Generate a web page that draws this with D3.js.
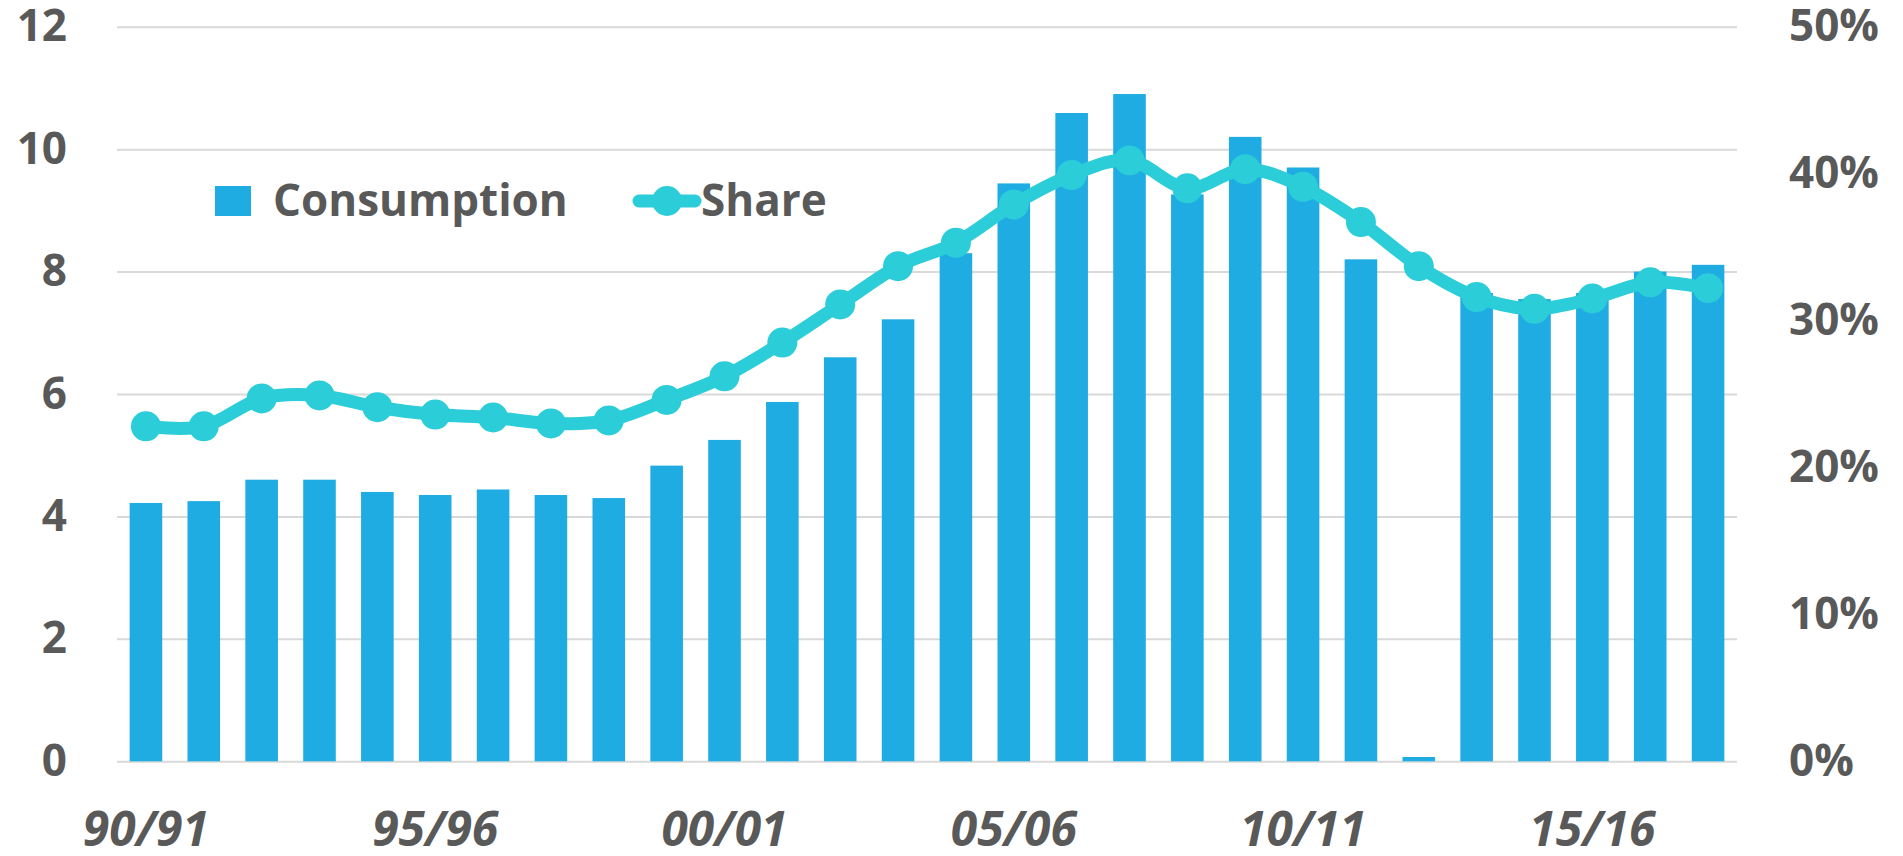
<!DOCTYPE html>
<html>
<head>
<meta charset="utf-8">
<script src="https://cdn.jsdelivr.net/npm/d3@7"></script>
<style>
  body { margin: 0; background: #fff; }
  svg { display: block; font-family: "Open Sans", sans-serif; }
  .tick text { fill: #595959; font-family: "Open Sans", sans-serif; font-weight: bold; font-size: 44px; }
  .grid line { stroke: #d9d9d9; stroke-width: 2; }
  .xaxis .tick text { font-family: "Noto Sans", "Open Sans", sans-serif; font-style: italic; font-size: 48px; }
</style>
</head>
<body>
<svg id="chart" width="1903" height="856"></svg>
<script>
// season labels, one per bar
var years = ['90/91','91/92','92/93','93/94','94/95','95/96','96/97','97/98','98/99','99/00',
  '00/01','01/02','02/03','03/04','04/05','05/06','06/07','07/08','08/09','09/10',
  '10/11','11/12','12/13','13/14','14/15','15/16','16/17','17/18'];

var consumption = [4.22, 4.25, 4.60, 4.60, 4.40, 4.35, 4.44, 4.35, 4.30, 4.83,
  5.25, 5.87, 6.60, 7.22, 8.30, 9.44, 10.59, 10.90, 9.26, 10.20,
  9.70, 8.20, 0.07, 7.65, 7.55, 7.65, 8.00, 8.11];

// share in percent
var share = [22.8, 22.8, 24.7, 24.9, 24.1, 23.6, 23.4, 23.0, 23.2, 24.6,
  26.2, 28.5, 31.1, 33.7, 35.3, 37.9, 39.9, 40.9, 39.0, 40.3,
  39.1, 36.7, 33.7, 31.6, 30.8, 31.5, 32.6, 32.2];

var leftTicks = [0, 2, 4, 6, 8, 10, 12];
var rightTicks = [0, 10, 20, 30, 40, 50];
var xLabels = ['90/91', '95/96', '00/01', '05/06', '10/11', '15/16'];

var barColor = '#1eace2';
var lineColor = '#2bcdd8';

var svg = d3.select('#chart');
var plotLeft = 117, plotRight = 1737, plotTop = 26.7, plotBottom = 761.3;

var x = d3.scaleBand()
  .domain(years)
  .range([plotLeft, plotRight])
  .paddingInner(0.437)
  .paddingOuter(0.2185);

var yL = d3.scaleLinear().domain([0, 12]).range([plotBottom, plotTop]);
var yR = d3.scaleLinear().domain([0, 50]).range([plotBottom, plotTop]);

// gridlines
svg.append('g')
  .attr('class', 'grid')
  .attr('transform', 'translate(' + plotLeft + ',0)')
  .call(d3.axisLeft(yL).tickValues(leftTicks).tickSize(-(plotRight - plotLeft)).tickFormat(''))
  .call(function(g){ g.select('.domain').remove(); });

// bars
svg.append('g').selectAll('rect')
  .data(consumption)
  .enter()
  .append('rect')
  .attr('x', function(d, i){ return x(years[i]); })
  .attr('width', x.bandwidth())
  .attr('y', function(d){ return yL(d); })
  .attr('height', function(d){ return plotBottom - yL(d); })
  .attr('fill', barColor);

// share line
var line = d3.line()
  .x(function(d, i){ return x(years[i]) + x.bandwidth() / 2; })
  .y(function(d){ return yR(d); })
  .curve(d3.curveCardinal.tension(0));

svg.append('path')
  .datum(share)
  .attr('d', line)
  .attr('fill', 'none')
  .attr('stroke', lineColor)
  .attr('stroke-width', 13)
  .attr('stroke-linejoin', 'round');

svg.append('g').selectAll('circle')
  .data(share)
  .enter()
  .append('circle')
  .attr('cx', function(d, i){ return x(years[i]) + x.bandwidth() / 2; })
  .attr('cy', function(d){ return yR(d); })
  .attr('r', 15)
  .attr('fill', lineColor);

// left axis
svg.append('g')
  .attr('transform', 'translate(' + plotLeft + ',0)')
  .call(d3.axisLeft(yL).tickValues(leftTicks).tickSize(0).tickPadding(50))
  .call(function(g){ g.select('.domain').remove(); });

// right axis
svg.append('g')
  .attr('transform', 'translate(' + plotRight + ',0)')
  .call(d3.axisRight(yR).tickValues(rightTicks).tickSize(0).tickPadding(52)
    .tickFormat(function(d){ return d + '%'; }))
  .call(function(g){ g.select('.domain').remove(); });

// bottom axis
svg.append('g')
  .attr('class', 'xaxis')
  .attr('transform', 'translate(0,' + plotBottom + ')')
  .call(d3.axisBottom(x).tickValues(xLabels).tickSize(0))
  .call(function(g){ g.select('.domain').remove(); })
  .selectAll('text')
  .attr('dy', null)
  .attr('y', 85);

// legend
var legend = svg.append('g');
legend.append('rect')
  .attr('x', 215).attr('y', 186)
  .attr('width', 36).attr('height', 30)
  .attr('fill', barColor);
legend.append('text')
  .attr('x', 273).attr('y', 216)
  .attr('fill', '#595959')
  .style('font-size', '44px').style('font-weight', 'bold')
  .text('Consumption');
legend.append('line')
  .attr('x1', 639).attr('x2', 695)
  .attr('y1', 201).attr('y2', 201)
  .attr('stroke', lineColor)
  .attr('stroke-width', 13)
  .attr('stroke-linecap', 'round');
legend.append('circle')
  .attr('cx', 667).attr('cy', 201).attr('r', 15)
  .attr('fill', lineColor);
legend.append('text')
  .attr('x', 701).attr('y', 216)
  .attr('fill', '#595959')
  .style('font-size', '44px').style('font-weight', 'bold')
  .text('Share');
</script>
</body>
</html>
